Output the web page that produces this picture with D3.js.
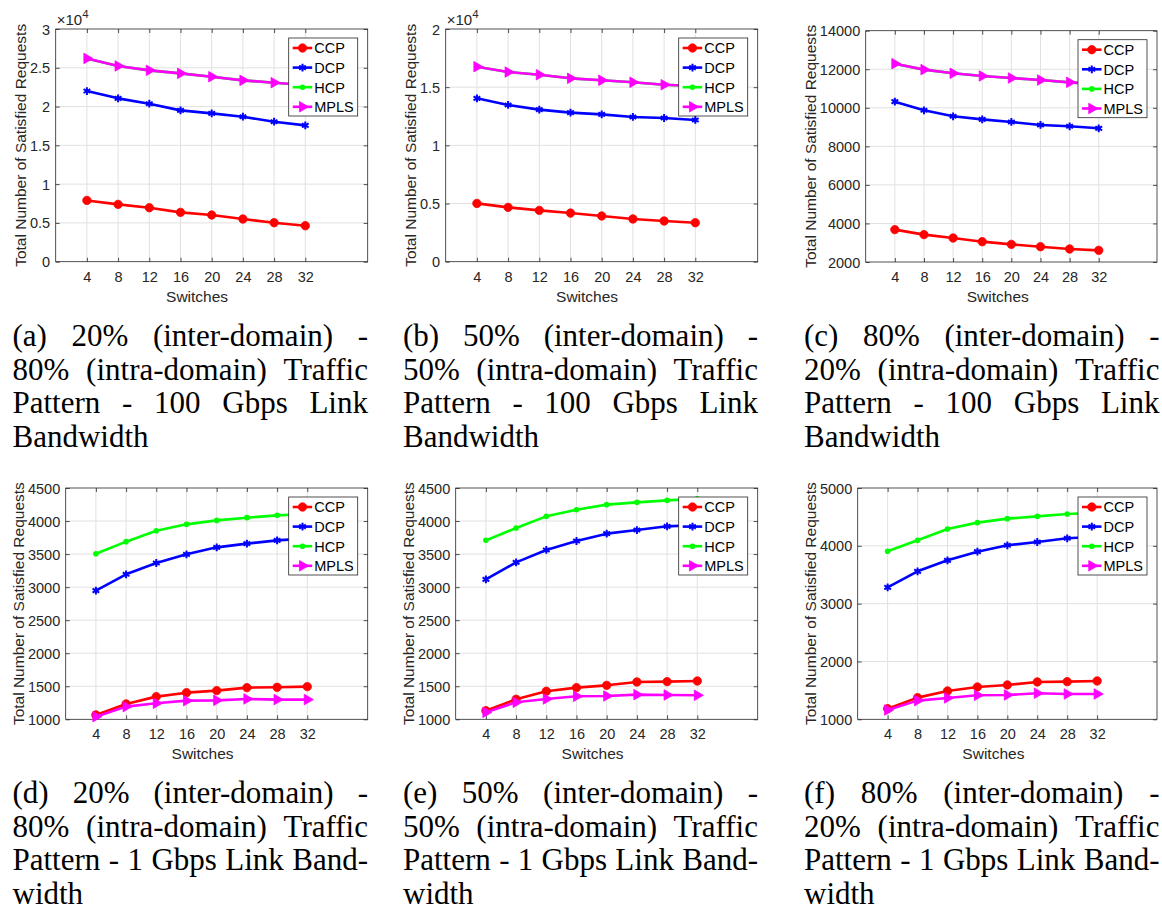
<!DOCTYPE html>
<html><head><meta charset="utf-8">
<script src="https://cdn.jsdelivr.net/npm/d3@7"></script>
<style>body{margin:0;background:#fff}svg{display:block}</style>
</head><body>
<svg id="c" width="1162" height="913"></svg>
<script>
// ---------------- DATA ----------------
const switches = [4, 8, 12, 16, 20, 24, 28, 32];
const seriesNames = ["CCP", "DCP", "HCP", "MPLS"];

// (a) 20%-80%, 100 Gbps
const ccpA  = [7900, 7390, 6960, 6360, 6020, 5500, 5030, 4640];
const dcpA  = [22000, 21060, 20370, 19510, 19120, 18690, 18050, 17580];
const hcpA  = [26210, 25230, 24670, 24280, 23850, 23380, 23080, 22780];
const mplsA = [26210, 25230, 24670, 24280, 23850, 23380, 23080, 22780];
// (b) 50%-50%, 100 Gbps
const ccpB  = [5010, 4670, 4410, 4180, 3930, 3670, 3500, 3350];
const dcpB  = [14040, 13470, 13070, 12810, 12660, 12440, 12350, 12180];
const hcpB  = [16760, 16300, 16070, 15760, 15590, 15420, 15210, 15100];
const mplsB = [16760, 16300, 16070, 15760, 15590, 15420, 15210, 15100];
// (c) 80%-20%, 100 Gbps
const ccpC  = [3680, 3420, 3245, 3055, 2915, 2795, 2675, 2605];
const dcpC  = [10320, 9870, 9560, 9400, 9265, 9110, 9040, 8935];
const hcpC  = [12290, 11980, 11790, 11650, 11545, 11440, 11320, 11230];
const mplsC = [12290, 11980, 11790, 11650, 11545, 11440, 11320, 11230];
// (d) 20%-80%, 1 Gbps
const ccpD  = [1066, 1232, 1343, 1403, 1434, 1479, 1484, 1494];
const dcpD  = [2947, 3194, 3365, 3496, 3602, 3658, 3708, 3738];
const hcpD  = [3506, 3688, 3854, 3950, 4010, 4051, 4086, 4106];
const mplsD = [1040, 1192, 1242, 1282, 1287, 1308, 1298, 1298];
// (e) 50%-50%, 1 Gbps
const ccpE  = [1131, 1303, 1424, 1479, 1514, 1565, 1570, 1580];
const dcpE  = [3118, 3375, 3562, 3698, 3809, 3864, 3920, 3940];
const hcpE  = [3708, 3895, 4071, 4172, 4248, 4283, 4313, 4338];
const mplsE = [1106, 1257, 1308, 1348, 1353, 1373, 1368, 1363];
// (f) 80%-20%, 1 Gbps
const ccpF  = [1184, 1375, 1490, 1559, 1594, 1646, 1651, 1663];
const dcpF  = [3282, 3559, 3749, 3899, 4009, 4066, 4130, 4158];
const hcpF  = [3905, 4095, 4291, 4401, 4470, 4510, 4550, 4573];
const mplsF = [1161, 1323, 1369, 1415, 1421, 1450, 1438, 1438];

// y tick values per panel
const yTicksA = [0, 5000, 10000, 15000, 20000, 25000, 30000];
const yTicksB = [0, 5000, 10000, 15000, 20000];
const yTicksC = [2000, 4000, 6000, 8000, 10000, 12000, 14000];
const yTicksD = [1000, 1500, 2000, 2500, 3000, 3500, 4000, 4500];
const yTicksE = [1000, 1500, 2000, 2500, 3000, 3500, 4000, 4500];
const yTicksF = [1000, 2000, 3000, 4000, 5000];

const xLabel = "Switches";
const yLabel = "Total Number of Satisfied Requests";

const captionA = ["(a) 20% (inter-domain) -", "80% (intra-domain) Traffic", "Pattern - 100 Gbps Link", "Bandwidth"];
const captionB = ["(b) 50% (inter-domain) -", "50% (intra-domain) Traffic", "Pattern - 100 Gbps Link", "Bandwidth"];
const captionC = ["(c) 80% (inter-domain) -", "20% (intra-domain) Traffic", "Pattern - 100 Gbps Link", "Bandwidth"];
const captionD = ["(d) 20% (inter-domain) -", "80% (intra-domain) Traffic", "Pattern - 1 Gbps Link Band-", "width"];
const captionE = ["(e) 50% (inter-domain) -", "50% (intra-domain) Traffic", "Pattern - 1 Gbps Link Band-", "width"];
const captionF = ["(f) 80% (inter-domain) -", "20% (intra-domain) Traffic", "Pattern - 1 Gbps Link Band-", "width"];

// ---------------- STYLE / LAYOUT ----------------
const colors = {CCP: "#ff0000", DCP: "#0000ff", HCP: "#00ff00", MPLS: "#ff00ff"};
const axisColor = "#262626";
const gridColor = "#e1e1e1";
const sansFont = "'Liberation Sans', Arial, Helvetica, sans-serif";
const serifFont = "'Liberation Serif', 'Times New Roman', serif";

const panels = [
  {box: {l: 55.7, r: 367.7, t: 29, b: 261.7}, yDom: [0, 30000], yTicks: yTicksA, exp: true,
   series: [ccpA, dcpA, hcpA, mplsA], caption: captionA, cap: {x: 12.5, w: 355.5, y: 346}},
  {box: {l: 445.7, r: 757.7, t: 29, b: 261.7}, yDom: [0, 20000], yTicks: yTicksB, exp: true,
   series: [ccpB, dcpB, hcpB, mplsB], caption: captionB, cap: {x: 403, w: 355, y: 346}},
  {box: {l: 865.7, r: 1157, t: 30.7, b: 262}, yDom: [2000, 14000], yTicks: yTicksC, exp: false,
   series: [ccpC, dcpC, hcpC, mplsC], caption: captionC, cap: {x: 804, w: 355.5, y: 346}},
  {box: {l: 65.7, r: 367.7, t: 488, b: 719.3}, yDom: [1000, 4500], yTicks: yTicksD, exp: false,
   series: [ccpD, dcpD, hcpD, mplsD], caption: captionD, cap: {x: 12.5, w: 355.5, y: 803}},
  {box: {l: 455.7, r: 757.7, t: 488, b: 719.3}, yDom: [1000, 4500], yTicks: yTicksE, exp: false,
   series: [ccpE, dcpE, hcpE, mplsE], caption: captionE, cap: {x: 403, w: 355, y: 803}},
  {box: {l: 857.7, r: 1157, t: 488, b: 719.3}, yDom: [1000, 5000], yTicks: yTicksF, exp: false,
   series: [ccpF, dcpF, hcpF, mplsF], caption: captionF, cap: {x: 804, w: 355.5, y: 803}},
];

const svg = d3.select("#c");

function drawMarker(g, name, x, y) {
  const c = colors[name];
  if (name === "CCP") {
    g.append("circle").attr("cx", x).attr("cy", y).attr("r", 4.2).attr("fill", c).attr("stroke", c).attr("stroke-width", 0.8);
  } else if (name === "DCP") {
    g.append("path").attr("d", d3.symbol(d3.symbolAsterisk, 42)()).attr("transform", `translate(${x},${y})`)
      .attr("fill", "none").attr("stroke", c).attr("stroke-width", 2);
  } else if (name === "HCP") {
    g.append("circle").attr("cx", x).attr("cy", y).attr("r", 2.8).attr("fill", c);
  } else {
    g.append("path").attr("d", d3.symbol(d3.symbolTriangle, 48)()).attr("transform", `translate(${x},${y}) rotate(90)`)
      .attr("fill", c).attr("stroke", c).attr("stroke-width", 0.8);
  }
}

panels.forEach(p => {
  const {l, r, t, b} = p.box;
  const g = svg.append("g");
  const x = d3.scaleLinear().domain([0, 40]).range([l, r]);
  const y = d3.scaleLinear().domain(p.yDom).range([b, t]);

  // grid
  g.append("g").selectAll("line").data(switches).join("line")
    .attr("x1", d => x(d)).attr("x2", d => x(d)).attr("y1", t).attr("y2", b)
    .attr("stroke", gridColor).attr("stroke-width", 1);
  g.append("g").selectAll("line").data(p.yTicks.filter(v => v > p.yDom[0] && v < p.yDom[1])).join("line")
    .attr("x1", l).attr("x2", r).attr("y1", d => y(d)).attr("y2", d => y(d))
    .attr("stroke", gridColor).attr("stroke-width", 1);

  // axes (bottom/left with labels, top/right tick-only)
  const fmt = p.exp ? (d => d3.format("~g")(d / 10000)) : (d => String(d));
  const ax = g.append("g").attr("transform", `translate(0,${b})`)
    .call(d3.axisBottom(x).tickValues(switches).tickSizeInner(-4).tickSizeOuter(0).tickPadding(8));
  const ay = g.append("g").attr("transform", `translate(${l},0)`)
    .call(d3.axisLeft(y).tickValues(p.yTicks).tickFormat(fmt).tickSizeInner(-4).tickSizeOuter(0).tickPadding(8));
  const axT = g.append("g").attr("transform", `translate(0,${t})`)
    .call(d3.axisTop(x).tickValues(switches).tickSizeInner(-4).tickSizeOuter(0).tickFormat(""));
  const ayR = g.append("g").attr("transform", `translate(${r},0)`)
    .call(d3.axisRight(y).tickValues(p.yTicks).tickSizeInner(-4).tickSizeOuter(0).tickFormat(""));
  [ax, ay, axT, ayR].forEach(a => {
    a.select(".domain").remove();
    a.selectAll("line").attr("stroke", axisColor).attr("stroke-width", 0.8);
    a.selectAll("text").attr("fill", axisColor).attr("font-family", sansFont).attr("font-size", 14.5);
  });
  ax.selectAll("text").attr("dy", null).attr("y", 20).attr("dominant-baseline", "auto");
  ay.selectAll("text").attr("dy", "0.35em").attr("x", -5.5);

  // box
  g.append("rect").attr("x", l).attr("y", t).attr("width", r - l).attr("height", b - t)
    .attr("fill", "none").attr("stroke", axisColor).attr("stroke-width", 0.8);

  // axis labels
  g.append("text").attr("x", (x(4) + x(32)) / 2 + 1).attr("y", b + 40).attr("text-anchor", "middle")
    .attr("font-family", sansFont).attr("font-size", 15.5).attr("fill", axisColor).text(xLabel);
  let maxW = 0;
  ay.selectAll("text").each(function () { maxW = Math.max(maxW, this.getComputedTextLength()); });
  const lx = l - 5.5 - maxW - 4;
  g.append("text").attr("transform", `translate(${lx},${(t + b) / 2}) rotate(-90)`).attr("text-anchor", "middle")
    .attr("font-family", sansFont).attr("font-size", 15.5).attr("fill", axisColor).text(yLabel);

  if (p.exp) {
    const e = g.append("text").attr("x", l + 1).attr("y", t - 4.5).attr("font-family", sansFont)
      .attr("font-size", 15).attr("fill", axisColor);
    e.append("tspan").text("\u00d710");
    e.append("tspan").attr("font-size", 11.5).attr("dy", -6.5).text("4");
  }

  // series
  const line = d3.line().x((d, i) => x(switches[i])).y(d => y(d));
  seriesNames.forEach((name, si) => {
    const vals = p.series[si];
    const sg = g.append("g");
    sg.append("path").datum(vals).attr("d", line).attr("fill", "none")
      .attr("stroke", colors[name]).attr("stroke-width", 2.6).attr("stroke-linejoin", "round");
    vals.forEach((v, i) => drawMarker(sg, name, x(switches[i]), y(v)));
  });

  // legend
  const lw = 69, lh = 78;
  const lgx = r - 10 - lw, lgy = t + 9;
  const lg = g.append("g");
  lg.append("rect").attr("x", lgx).attr("y", lgy).attr("width", lw).attr("height", lh)
    .attr("fill", "#fff").attr("stroke", axisColor).attr("stroke-width", 0.8);
  seriesNames.forEach((name, i) => {
    const cy = lgy + 10 + i * 19.6;
    lg.append("line").attr("x1", lgx + 4).attr("x2", lgx + 23.5).attr("y1", cy).attr("y2", cy)
      .attr("stroke", colors[name]).attr("stroke-width", 2.6);
    drawMarker(lg, name, lgx + 13.8, cy);
    lg.append("text").attr("x", lgx + 25.5).attr("y", cy + 5.3).attr("font-family", sansFont)
      .attr("font-size", 14.5).attr("fill", "#000").text(name);
  });

  // caption (justified)
  const cg = g.append("g").attr("font-family", serifFont).attr("font-size", 31).attr("fill", "#000");
  p.caption.forEach((txt, li) => {
    const yy = p.cap.y + li * 33.6;
    const last = li === p.caption.length - 1;
    if (last) {
      cg.append("text").attr("x", p.cap.x).attr("y", yy).text(txt);
      return;
    }
    const words = txt.split(" ");
    const nodes = words.map(w => cg.append("text").attr("y", yy).text(w));
    const widths = nodes.map(n => n.node().getComputedTextLength());
    const gap = (p.cap.w - d3.sum(widths)) / (words.length - 1);
    let xx = p.cap.x;
    nodes.forEach((n, i) => { n.attr("x", xx); xx += widths[i] + gap; });
  });
});
</script>
</body></html>
